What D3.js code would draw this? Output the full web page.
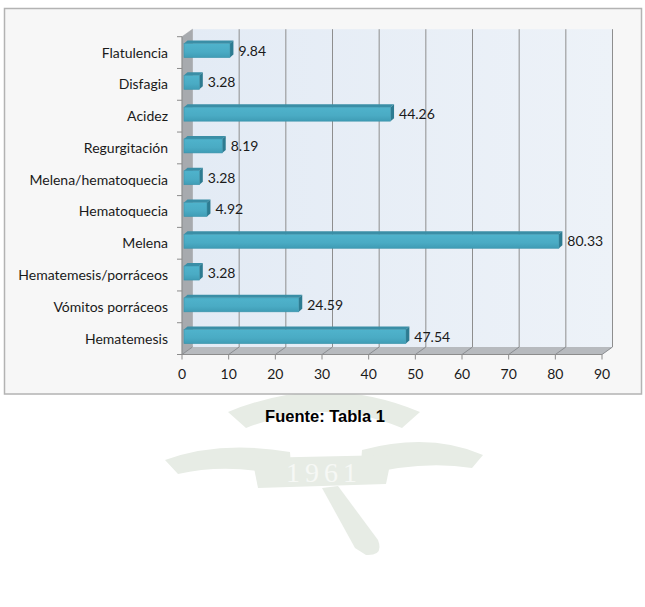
<!DOCTYPE html>
<html>
<head>
<meta charset="utf-8">
<script src="https://cdn.jsdelivr.net/npm/d3@7"></script>
<style>
  body { margin: 0; background: #fff; }
  svg { display: block; }
  .cat, .val, .tick-label { font-family: Lato, "Open Sans", sans-serif; font-size: 14px; fill: #1a1a1a; }
</style>
</head>
<body>
<div class="chart"></div>
<script>
var categories = ["Flatulencia", "Disfagia", "Acidez", "Regurgitación", "Melena/hematoquecia",
  "Hematoquecia", "Melena", "Hematemesis/porráceos", "Vómitos porráceos", "Hematemesis"];
var values = [9.84, 3.28, 44.26, 8.19, 3.28, 4.92, 80.33, 3.28, 24.59, 47.54];
var xTicks = [0, 10, 20, 30, 40, 50, 60, 70, 80, 90];
var sourceText = "Fuente: Tabla 1";

var width = 645, height = 607;
var svg = d3.select(".chart").append("svg")
  .attr("width", width)
  .attr("height", height);

// depth of the 3d box, and of the bars
var dx = 10.5, dy = -7.5;
var bdx = 3.5, bdy = -3;

var x = d3.scaleLinear().domain([0, 90]).range([182, 602]);
var y = d3.scaleBand().domain(categories).range([36.7, 354.5]);
var x0 = x(0), yBottom = y.range()[1], yTop = y.range()[0];

var defs = svg.append("defs");
var wallGrad = defs.append("linearGradient").attr("id", "wall");
wallGrad.append("stop").attr("offset", "0%").attr("stop-color", "#e3ebf5");
wallGrad.append("stop").attr("offset", "100%").attr("stop-color", "#edf2f8");
var barGrad = defs.append("linearGradient").attr("id", "bar")
  .attr("x1", 0).attr("y1", 0).attr("x2", 0).attr("y2", 1);
barGrad.append("stop").attr("offset", "0%").attr("stop-color", "#4fb3cc");
barGrad.append("stop").attr("offset", "60%").attr("stop-color", "#4aabc4");
barGrad.append("stop").attr("offset", "100%").attr("stop-color", "#3f9cb5");

// faint watermark emblem
var wm = svg.append("g").attr("fill", "#e7ece5").attr("stroke", "none");
wm.append("path")
  .attr("d", "M165,460 Q220,440 290,452 L292,478 Q232,462 178,474 Z");
wm.append("path")
  .attr("d", "M483,455 Q430,432 362,450 L360,476 Q420,460 472,468 Z");
wm.append("path")
  .attr("d", "M228,412 Q325,372 420,412 L402,428 Q325,396 246,428 Z");
wm.append("path")
  .attr("d", "M252,458 L392,455 L386,484 L258,488 Z");
wm.append("path")
  .attr("d", "M322,488 L338,486 L378,540 Q384,556 366,555 L355,548 Z");
wm.append("text")
  .attr("x", 324).attr("y", 482)
  .attr("text-anchor", "middle")
  .attr("font-family", "Liberation Serif, serif")
  .attr("font-size", 28)
  .attr("letter-spacing", 5)
  .attr("fill", "#f6f8f5")
  .text("1961");

// chart frame
svg.append("rect")
  .attr("x", 4.5).attr("y", 8.5)
  .attr("width", 637).attr("height", 385.5)
  .attr("fill", "#f7f7f7")
  .attr("stroke", "#b3b3b3")
  .attr("stroke-width", 1.5);

// back wall
svg.append("rect")
  .attr("x", x0 + dx).attr("y", yTop + dy)
  .attr("width", x(90) - x0).attr("height", yBottom - yTop)
  .attr("fill", "url(#wall)");

// left wall
svg.append("path")
  .attr("d", "M" + x0 + "," + yTop + "L" + (x0 + dx) + "," + (yTop + dy) +
    "L" + (x0 + dx) + "," + (yBottom + dy) + "L" + x0 + "," + yBottom + "Z")
  .attr("fill", "#a7aaae")
  .attr("stroke", "#9a9da1")
  .attr("stroke-width", 0.5);

// floor
svg.append("path")
  .attr("d", "M" + x0 + "," + yBottom + "L" + x(90) + "," + yBottom +
    "L" + (x(90) + dx) + "," + (yBottom + dy) + "L" + (x0 + dx) + "," + (yBottom + dy) + "Z")
  .attr("fill", "#b7babe");

// gridlines on wall and floor
xTicks.forEach(function(t) {
  if (t > 0) {
    svg.append("line")
      .attr("x1", x(t) + dx).attr("x2", x(t) + dx)
      .attr("y1", yTop + dy).attr("y2", yBottom + dy)
      .attr("stroke", "#8e8e8e").attr("stroke-width", 1);
  }
  svg.append("line")
    .attr("x1", x(t) + dx).attr("y1", yBottom + dy)
    .attr("x2", x(t)).attr("y2", yBottom)
    .attr("stroke", "#8a8d91").attr("stroke-width", 1);
});

// axes lines
svg.append("line")
  .attr("x1", x0).attr("x2", x0).attr("y1", yTop).attr("y2", yBottom)
  .attr("stroke", "#8c8c8c");
svg.append("line")
  .attr("x1", x0).attr("x2", x(90)).attr("y1", yBottom).attr("y2", yBottom)
  .attr("stroke", "#8c8c8c");

// left ticks at band edges
categories.concat([null]).forEach(function(c, i) {
  var yy = yTop + i * y.bandwidth();
  svg.append("line")
    .attr("x1", x0 - 5).attr("x2", x0)
    .attr("y1", yy).attr("y2", yy)
    .attr("stroke", "#8c8c8c");
});

// bottom ticks and labels
xTicks.forEach(function(t) {
  svg.append("line")
    .attr("x1", x(t)).attr("x2", x(t))
    .attr("y1", yBottom).attr("y2", yBottom + 5)
    .attr("stroke", "#8c8c8c");
  svg.append("text")
    .attr("class", "tick-label")
    .attr("x", x(t)).attr("y", 378.5)
    .attr("text-anchor", "middle")
    .text(t);
});

// category labels
categories.forEach(function(c) {
  svg.append("text")
    .attr("class", "cat")
    .attr("x", 168)
    .attr("y", y(c) + y.bandwidth() / 2 + 5)
    .attr("text-anchor", "end")
    .text(c);
});

// 3d bars
var barH = 14;
categories.forEach(function(c, i) {
  var v = values[i];
  var left = x0 + 2;
  var right = x(v) + 2;
  var top = y(c) + y.bandwidth() / 2 - 2 - barH / 2;
  var g = svg.append("g");
  // top face
  g.append("path")
    .attr("d", "M" + left + "," + top + "L" + (left + bdx) + "," + (top + bdy) +
      "L" + (right + bdx) + "," + (top + bdy) + "L" + right + "," + top + "Z")
    .attr("fill", "#3a8ea6");
  // side face
  g.append("path")
    .attr("d", "M" + right + "," + top + "L" + (right + bdx) + "," + (top + bdy) +
      "L" + (right + bdx) + "," + (top + bdy + barH) + "L" + right + "," + (top + barH) + "Z")
    .attr("fill", "#2d7b91");
  // front face
  g.append("rect")
    .attr("x", left).attr("y", top)
    .attr("width", right - left).attr("height", barH)
    .attr("fill", "url(#bar)")
    .attr("stroke", "#3a93ab")
    .attr("stroke-width", 0.6);
  svg.append("text")
    .attr("class", "val")
    .attr("x", right + 8.5)
    .attr("y", top + barH / 2 + 5)
    .text(v.toFixed(2));
});

// source line
svg.append("text")
  .attr("x", 325).attr("y", 422)
  .attr("text-anchor", "middle")
  .attr("font-family", "Liberation Sans, Arial, sans-serif")
  .attr("font-weight", "bold")
  .attr("font-size", 16.5)
  .attr("fill", "#000")
  .text(sourceText);
</script>
</body>
</html>
